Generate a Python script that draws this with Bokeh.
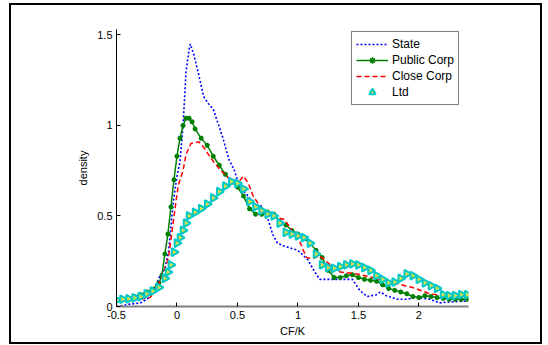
import numpy as np
from bokeh.plotting import figure
from bokeh.models import Range1d, FixedTicker, Legend, LegendItem, ColumnDataSource
from bokeh.embed import file_html
from bokeh.resources import INLINE

# ---- data ----
state_x = [-0.5, -0.45, -0.4, -0.3, -0.24, -0.18, -0.14, -0.1, -0.07, -0.03, 0.0, 0.025, 0.05, 0.075,
           0.1, 0.11, 0.14, 0.18, 0.22, 0.26, 0.3, 0.34, 0.38, 0.43, 0.47, 0.5, 0.55, 0.6, 0.63, 0.69,
           0.74, 0.79, 0.83, 0.88, 1.0, 1.08, 1.14, 1.18, 1.3, 1.4, 1.45, 1.51, 1.57, 1.65, 1.68, 1.73,
           1.82, 1.9, 1.98, 2.09, 2.17, 2.25, 2.4]
state_y = [0.0, 0.005, 0.012, 0.02, 0.045, 0.11, 0.17, 0.21, 0.3, 0.58, 0.72, 0.8, 1.0, 1.3,
           1.42, 1.45, 1.39, 1.28, 1.16, 1.12, 1.09, 1.01, 0.93, 0.81, 0.76, 0.7, 0.64, 0.6, 0.56, 0.56,
           0.51, 0.4, 0.35, 0.335, 0.31, 0.26, 0.19, 0.15, 0.15, 0.15, 0.15, 0.09, 0.055, 0.065, 0.08, 0.06,
           0.04, 0.04, 0.05, 0.04, 0.02, 0.025, 0.03]

public_x = [-0.5, -0.45, -0.4, -0.35, -0.3, -0.25, -0.2, -0.15, -0.125, -0.1, -0.075, -0.05, -0.025,
            0.0, 0.025, 0.05, 0.075, 0.1, 0.125, 0.15, 0.2, 0.25, 0.3, 0.35, 0.4, 0.45, 0.5, 0.55, 0.6,
            0.65, 0.7, 0.75, 0.8, 0.85, 0.9, 0.95, 1.0, 1.05, 1.1, 1.15, 1.2, 1.25, 1.3, 1.35, 1.4, 1.45,
            1.5, 1.55, 1.6, 1.65, 1.7, 1.75, 1.8, 1.85, 1.9, 1.95, 2.0, 2.05, 2.1, 2.15, 2.2, 2.25, 2.3,
            2.35, 2.4]
public_y = [0.035, 0.04, 0.045, 0.055, 0.065, 0.08, 0.095, 0.13, 0.17, 0.29, 0.4, 0.55, 0.7,
            0.83, 0.93, 1.0, 1.04, 1.04, 1.02, 0.98, 0.93, 0.89, 0.83, 0.78, 0.73, 0.69, 0.66, 0.61, 0.54,
            0.51, 0.51, 0.52, 0.51, 0.47, 0.45, 0.42, 0.4, 0.375, 0.35, 0.31, 0.27, 0.2, 0.16, 0.16, 0.17,
            0.175, 0.16, 0.15, 0.145, 0.14, 0.12, 0.1, 0.09, 0.08, 0.07, 0.055, 0.05, 0.06, 0.055, 0.05,
            0.045, 0.04, 0.04, 0.04, 0.04]

close_x = [-0.5, -0.4, -0.3, -0.22, -0.18, -0.12, -0.07, -0.03, 0.01, 0.05, 0.075, 0.115, 0.18, 0.22,
           0.28, 0.35, 0.41, 0.46, 0.5, 0.55, 0.59, 0.63, 0.7, 0.79, 0.83, 0.89, 0.93, 1.02, 1.07, 1.12,
           1.18, 1.25, 1.35, 1.49, 1.65, 1.79, 1.95, 2.09, 2.2, 2.4]
close_y = [0.03, 0.035, 0.04, 0.05, 0.09, 0.17, 0.27, 0.47, 0.67, 0.75, 0.84, 0.9, 0.91, 0.88,
           0.82, 0.76, 0.72, 0.69, 0.68, 0.72, 0.68, 0.61, 0.54, 0.51, 0.49, 0.48, 0.44, 0.35, 0.27, 0.265,
           0.28, 0.24, 0.19, 0.18, 0.155, 0.13, 0.105, 0.07, 0.06, 0.065]

ltd_x = [-0.5, -0.45, -0.4, -0.35, -0.3, -0.25, -0.2, -0.15, -0.1, -0.075, -0.05, -0.025, 0.0, 0.025,
         0.05, 0.075, 0.1, 0.15, 0.2, 0.25, 0.3, 0.35, 0.4, 0.45, 0.5, 0.55, 0.6, 0.65, 0.7, 0.75, 0.8,
         0.85, 0.9, 0.95, 1.0, 1.05, 1.1, 1.15, 1.2, 1.25, 1.3, 1.35, 1.4, 1.45, 1.5, 1.55, 1.6, 1.65,
         1.7, 1.75, 1.8, 1.85, 1.9, 1.95, 2.0, 2.05, 2.1, 2.15, 2.2, 2.25, 2.3, 2.35, 2.4]
ltd_y = [0.035, 0.04, 0.042, 0.047, 0.055, 0.07, 0.085, 0.105, 0.155, 0.19, 0.23, 0.3, 0.35, 0.38,
         0.42, 0.46, 0.5, 0.52, 0.54, 0.565, 0.6, 0.635, 0.665, 0.69, 0.68, 0.65, 0.58, 0.55, 0.53, 0.51,
         0.5, 0.46, 0.41, 0.4, 0.39, 0.38, 0.35, 0.29, 0.23, 0.215, 0.21, 0.22, 0.23, 0.235, 0.23, 0.215,
         0.2, 0.17, 0.15, 0.13, 0.135, 0.155, 0.18, 0.17, 0.15, 0.13, 0.115, 0.1, 0.065, 0.06, 0.06,
         0.065, 0.065]

x_ticks = [-0.5, 0, 0.5, 1, 1.5, 2]
x_tick_labels = ["-0.5", "0", "0.5", "1", "1.5", "2"]
y_ticks = [0, 0.5, 1, 1.5]
y_tick_labels = ["0", "0.5", "1", "1.5"]

FONT = "Liberation Sans"

p = figure(frame_width=352, frame_height=277,
           min_border_left=105, min_border_right=72, min_border_top=24, min_border_bottom=36,
           x_range=Range1d(-0.5, 2.41), y_range=Range1d(0, 1.53),
           output_backend="svg", toolbar_location=None)
p.styles = {"border": "2px solid black", "margin-left": "9px", "margin-top": "3px"}
p.outline_line_color = None
p.xgrid.visible = False
p.ygrid.visible = False
p.background_fill_color = "white"
p.border_fill_color = "white"

r_state = p.line(state_x, state_y, line_color="#0000ff", line_width=1.6, line_dash="2 2")
r_pub_l = p.line(public_x, public_y, line_color="#008000", line_width=1.5)
r_pub_m = p.scatter(public_x, public_y, marker="asterisk", size=5, line_color="#008000", line_width=1.5)
r_close = p.line(close_x, close_y, line_color="#ff0000", line_width=1.5, line_dash="5 3")

ltd_src = ColumnDataSource(dict(x=ltd_x, y=ltd_y, a=[-np.pi / 2] * len(ltd_x)))
r_ltd = p.scatter("x", "y", source=ltd_src, marker="triangle", angle="a", angle_units="rad", size=8,
                  line_color="#00c8c8", line_width=2, fill_color="#d8e048", fill_alpha=1.0)

legend = Legend(items=[
    LegendItem(label="State", renderers=[r_state]),
    LegendItem(label="Public Corp", renderers=[r_pub_l, r_pub_m]),
    LegendItem(label="Close Corp", renderers=[r_close]),
    LegendItem(label="Ltd", renderers=[r_ltd], index=0),
], location=(235, 201))
legend.border_line_color = "black"
legend.border_line_width = 1
legend.background_fill_color = "white"
legend.background_fill_alpha = 1
legend.padding = 4
legend.spacing = 0
legend.margin = 0
legend.glyph_width = 32
legend.glyph_height = 16
legend.label_height = 16
legend.label_standoff = 4
legend.label_text_font = FONT
legend.label_text_font_size = "12px"
legend.label_text_color = "black"
p.add_layout(legend)

for ax in (p.xaxis[0], p.yaxis[0]):
    ax.major_tick_in = 4
    ax.major_tick_out = 0
    ax.minor_tick_in = 0
    ax.minor_tick_out = 0
    ax.major_tick_line_color = "black"
    ax.major_label_text_font = FONT
    ax.major_label_text_font_size = "11px"
    ax.major_label_text_color = "black"
    ax.axis_label_text_font = FONT
    ax.axis_label_text_font_size = "11px"
    ax.axis_label_text_font_style = "normal"
    ax.axis_label_text_color = "black"

p.xaxis.ticker = FixedTicker(ticks=x_ticks)
p.xaxis.major_label_overrides = {float(v): s for v, s in zip(x_ticks, x_tick_labels)}
p.yaxis.ticker = FixedTicker(ticks=y_ticks)
p.yaxis.major_label_overrides = {float(v): s for v, s in zip(y_ticks, y_tick_labels)}
p.xaxis.axis_line_color = "#808080"
p.xaxis.axis_line_width = 2
p.yaxis.axis_line_color = "black"
p.xaxis.major_label_standoff = 4
p.yaxis.major_label_standoff = 4
p.xaxis.axis_label = "CF/K"
p.yaxis.axis_label = "density"
p.xaxis.axis_label_standoff = 3
p.yaxis.axis_label_standoff = 5

open("out.html", "w").write(file_html(p, INLINE))
